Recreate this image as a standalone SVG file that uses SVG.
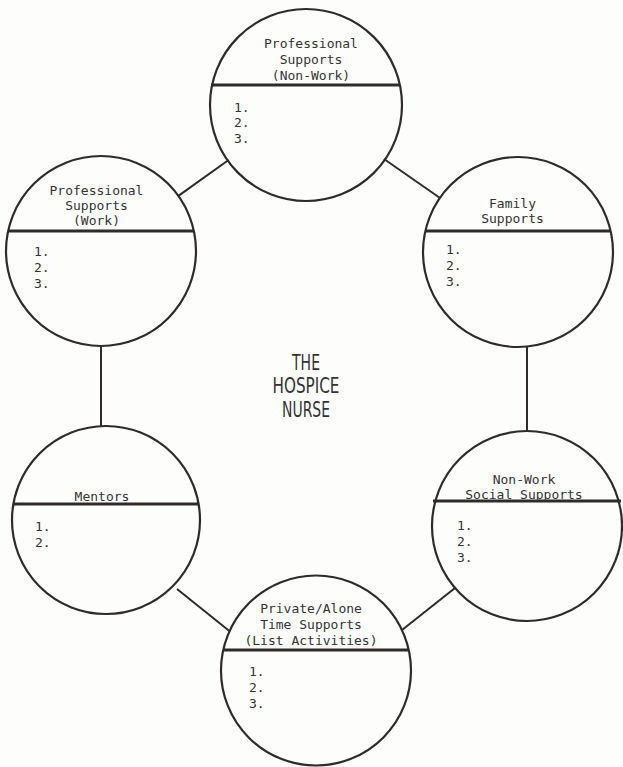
<svg xmlns="http://www.w3.org/2000/svg" width="623" height="767" viewBox="0 0 623 767">
  <style>
    .ring { fill: none; stroke: #2f2b2b; stroke-width: 2.2; }
    .bar { stroke: #2f2b2b; stroke-width: 2.8; }
    .link { stroke: #2f2b2b; stroke-width: 2; fill: none; }
    .head { font-family: "DejaVu Sans Mono", "Liberation Mono", monospace; font-size: 13px; fill: #333; text-anchor: middle; }
    .item { font-family: "DejaVu Sans Mono", "Liberation Mono", monospace; font-size: 13px; fill: #333; }
    .hub { font-family: "DejaVu Sans", "Liberation Sans", sans-serif; font-size: 21px; fill: #333; text-anchor: middle; }
  </style>
  <rect width="623" height="767" fill="#fdfdfc"/>

  <!-- links between the support circles -->
  <g id="connectors">
    <line class="link" x1="228.6" y1="160" x2="178.4" y2="195.9"/>
    <line class="link" x1="384" y1="159" x2="440" y2="198"/>
    <line class="link" x1="101" y1="346" x2="101" y2="426"/>
    <line class="link" x1="527" y1="346.6" x2="527" y2="431"/>
    <line class="link" x1="177" y1="589" x2="230" y2="631.5"/>
    <line class="link" x1="455" y1="588" x2="402" y2="630"/>
  </g>

  <g id="hub">
    <text class="hub" x="306" y="370" textLength="28" lengthAdjust="spacingAndGlyphs">THE</text>
    <text class="hub" x="306" y="393" textLength="67" lengthAdjust="spacingAndGlyphs">HOSPICE</text>
    <text class="hub" x="306" y="417" textLength="48" lengthAdjust="spacingAndGlyphs">NURSE</text>
  </g>

  <g id="prof-nonwork">
    <circle class="ring" cx="306" cy="105" r="96"/>
    <line class="bar" x1="211" y1="85" x2="399" y2="85"/>
    <text class="head" x="311" y="48">Professional</text>
    <text class="head" x="311" y="64">Supports</text>
    <text class="head" x="311" y="80">(Non-Work)</text>
    <text class="item" x="234" y="112">1.</text>
    <text class="item" x="234" y="127">2.</text>
    <text class="item" x="234" y="143">3.</text>
  </g>

  <g id="prof-work">
    <circle class="ring" cx="101" cy="251" r="95"/>
    <line class="bar" x1="8" y1="231" x2="194" y2="231"/>
    <text class="head" x="96.5" y="195">Professional</text>
    <text class="head" x="96.5" y="210">Supports</text>
    <text class="head" x="96.5" y="225">(Work)</text>
    <text class="item" x="34" y="256">1.</text>
    <text class="item" x="34" y="272">2.</text>
    <text class="item" x="34" y="288">3.</text>
  </g>

  <g id="family">
    <circle class="ring" cx="518" cy="252" r="95"/>
    <line class="bar" x1="425" y1="231" x2="611" y2="231"/>
    <text class="head" x="512.5" y="208">Family</text>
    <text class="head" x="512.5" y="223">Supports</text>
    <text class="item" x="446" y="254">1.</text>
    <text class="item" x="446" y="270">2.</text>
    <text class="item" x="446" y="286">3.</text>
  </g>

  <g id="mentors">
    <circle class="ring" cx="106" cy="520" r="94"/>
    <line class="bar" x1="13" y1="504" x2="199" y2="504"/>
    <text class="head" x="102" y="501">Mentors</text>
    <text class="item" x="35" y="531">1.</text>
    <text class="item" x="35" y="547">2.</text>
  </g>

  <g id="social">
    <circle class="ring" cx="527" cy="526" r="95"/>
    <line class="bar" x1="433" y1="501" x2="621" y2="501"/>
    <text class="head" x="524" y="484">Non-Work</text>
    <text class="head" x="524" y="499">Social Supports</text>
    <text class="item" x="457" y="530">1.</text>
    <text class="item" x="457" y="546">2.</text>
    <text class="item" x="457" y="562">3.</text>
  </g>

  <g id="private-time">
    <circle class="ring" cx="316" cy="670.5" r="95"/>
    <line class="bar" x1="223" y1="650" x2="409" y2="650"/>
    <text class="head" x="311" y="613">Private/Alone</text>
    <text class="head" x="311" y="629">Time Supports</text>
    <text class="head" x="311" y="645">(List Activities)</text>
    <text class="item" x="249" y="676">1.</text>
    <text class="item" x="249" y="692">2.</text>
    <text class="item" x="249" y="708">3.</text>
  </g>
</svg>
